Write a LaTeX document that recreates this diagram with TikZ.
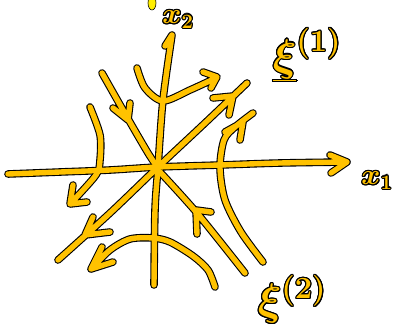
\documentclass[tikz,border=0pt]{standalone}
\usepackage{fix-cm}
\usepackage{contour}
\contourlength{1.1pt}
\definecolor{penYellow}{HTML}{FFC200}
\definecolor{blobYellow}{HTML}{FFEE00}
\usetikzlibrary{positioning}
\tikzset{
  %% two passes: a black rim, then the yellow ink over it
  rim/.style = {draw=black, line width=7.6pt, line cap=round, line join=round},
  ink/.style = {draw=penYellow, line width=5.4pt, line cap=round, line join=round},
  tag/.style = {text=penYellow, inner sep=0pt, font=\fontsize{29}{30}\selectfont\boldmath},
  bigtag/.style = {tag, font=\fontsize{44}{46}\selectfont\boldmath},
}
\begin{document}
\begin{tikzpicture}[x=1pt, y=-1pt]
\useasboundingbox (0,0) rectangle (398,329);

\foreach \pen in {rim, ink} {
  % axes
  \draw[\pen] plot[smooth] coordinates {(8,174) (60,172) (110,170) (158,167) (220,165) (280,163) (347,162)}
              (330,155) -- (347,162) -- (331,173);
  \draw[\pen] plot[smooth] coordinates {(154,285) (155,210) (158,167) (163,100) (172,35)}
              (165,46) -- (172,35);
  % eigen directions
  \draw[\pen] plot[smooth] coordinates {(58,260) (110,213) (158,167) (205,123) (247,83)}
              (213,98) -- (233,96) -- (229,115)
              (93,217) -- (85,235) -- (110,232);
  \draw[\pen] plot[smooth] coordinates {(102,73) (127,117) (148,153) (158,168)}
              (113,108) -- (128,120) -- (130,103);
  \draw[\pen] plot[smooth] coordinates {(160,172) (197,213) (245,273)}
              (211,212) -- (196,210) -- (197,234);
  % hyperbolas
  \draw[\pen] plot[smooth] coordinates {(137,68) (145,88) (163,101) (190,90) (216,78)}
              (203,72) -- (217,77) -- (211,88);
  \draw[\pen] plot[smooth] coordinates {(90,107) (100,135) (100,160) (96,175) (71,203)}
              (73,185) -- (70,204) -- (87,202);
  \draw[\pen] plot[smooth] coordinates {(263,262) (241,232) (225,200) (220,168) (224,140) (235,127) (253,113)}
              (225,132) -- (243,122) -- (240,140);
  \draw[\pen] plot[smooth] coordinates {(215,287) (208,270) (193,256) (170,242) (153,238) (130,239) (110,250) (91,269)}
              (102,247) -- (91,269) -- (113,262);
}

\fill[blobYellow, draw=black, line width=0.6pt] (152,3) ellipse (4 and 7);

\node[tag] (xtwo) at (178,20) {\contour{black}{$x_2$}};
\node[tag] (xone) at (377,181) {\contour{black}{$x_1$}};
\node[bigtag] (xione) at (307,55) {\contour{black}{$\underline{\xi}^{(1)}$}};
\node[bigtag] (xitwo) at (292,300) {\contour{black}{$\xi^{(2)}$}};

\end{tikzpicture}
\end{document}
